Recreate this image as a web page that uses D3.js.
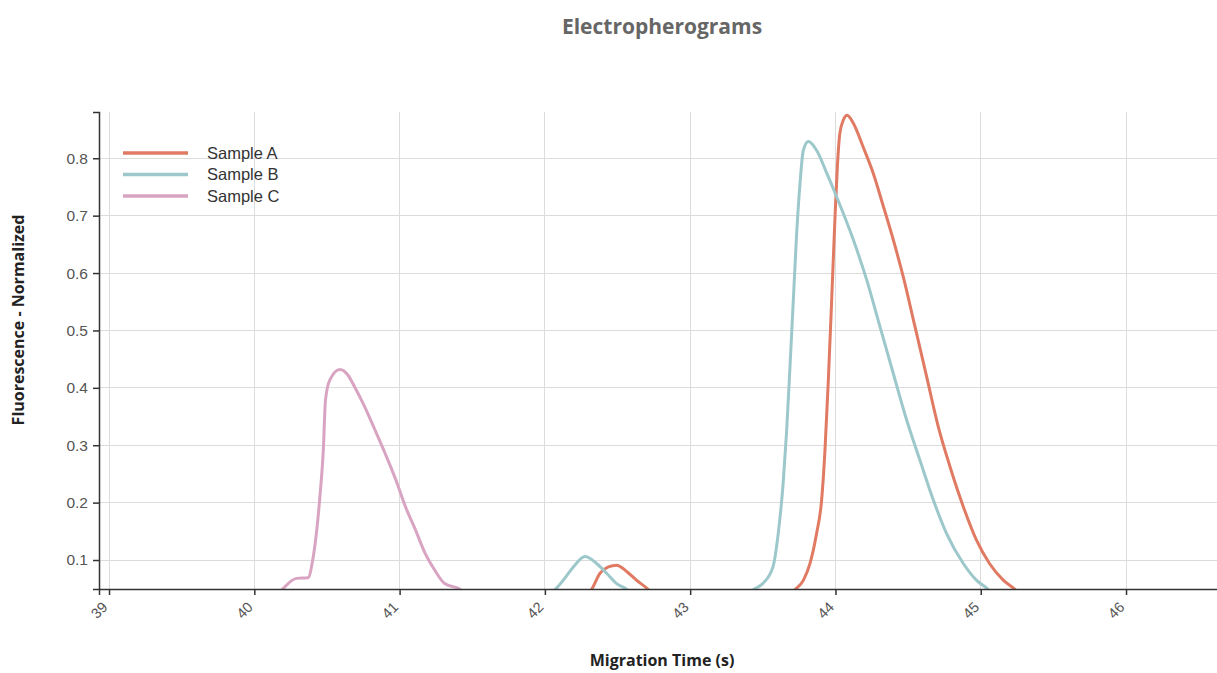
<!DOCTYPE html>
<html>
<head>
<meta charset="utf-8">
<script src="https://cdn.jsdelivr.net/npm/d3@7"></script>
<style>
  body { margin: 0; background: #fff; }
  svg { display: block; }
</style>
</head>
<body>
<svg id="chart" width="1217" height="673"></svg>
<script>
const seriesNames = ["Sample A", "Sample B", "Sample C"];
const seriesColors = ["#e07a62", "#9dc8cb", "#d9a4c2"];

const sampleA_time = [42.25, 42.32, 42.38, 42.437, 42.494, 42.563, 42.63, 42.71, 42.78,
  43.65, 43.72, 43.78, 43.825, 43.87, 43.905, 43.928, 43.95, 43.974, 43.997, 44.013, 44.03, 44.055, 44.08,
  44.123, 44.19, 44.26, 44.33, 44.398, 44.466, 44.547, 44.628, 44.708, 44.788, 44.88, 44.97, 45.06, 45.155, 45.235, 45.3];
const sampleA_value = [0.03, 0.048, 0.077, 0.088, 0.091, 0.080, 0.065, 0.049, 0.03,
  0.03, 0.048, 0.065, 0.094, 0.146, 0.205, 0.292, 0.408, 0.553, 0.698, 0.785, 0.843, 0.867, 0.875,
  0.861, 0.820, 0.774, 0.716, 0.658, 0.594, 0.507, 0.419, 0.332, 0.263, 0.193, 0.135, 0.094, 0.065, 0.049, 0.03];

const sampleB_time = [42.0, 42.07, 42.127, 42.196, 42.276, 42.356, 42.425, 42.494, 42.563, 42.63,
  43.36, 43.434, 43.50, 43.57, 43.606, 43.64, 43.663, 43.687, 43.71, 43.733, 43.756, 43.779, 43.813,
  43.87, 43.94, 44.008, 44.123, 44.215, 44.306, 44.398, 44.49, 44.58, 44.673, 44.765, 44.88, 44.97, 45.05, 45.12];
const sampleB_value = [0.03, 0.048, 0.065, 0.088, 0.106, 0.094, 0.077, 0.059, 0.049, 0.03,
  0.03, 0.048, 0.059, 0.088, 0.146, 0.234, 0.321, 0.437, 0.553, 0.669, 0.756, 0.814, 0.829,
  0.814, 0.774, 0.733, 0.658, 0.588, 0.507, 0.425, 0.344, 0.275, 0.205, 0.146, 0.094, 0.065, 0.049, 0.03];

const sampleC_time = [40.12, 40.189, 40.29, 40.37, 40.40, 40.45, 40.475, 40.49, 40.52, 40.59,
  40.645, 40.69, 40.76, 40.83, 40.90, 40.975, 41.04, 41.11, 41.175, 41.24, 41.31, 41.415, 41.48];
const sampleC_value = [0.03, 0.048, 0.068, 0.069, 0.097, 0.206, 0.292, 0.379, 0.414, 0.432,
  0.422, 0.402, 0.367, 0.327, 0.286, 0.239, 0.193, 0.152, 0.112, 0.083, 0.059, 0.049, 0.03];

const xTicks = [39, 40, 41, 42, 43, 44, 45, 46];
const yTicks = [0.1, 0.2, 0.3, 0.4, 0.5, 0.6, 0.7, 0.8];

const titleText = "Electropherograms";
const xLabel = "Migration Time (s)";
const yLabel = "Fluorescence - Normalized";

const svg = d3.select("#chart");
const margin = { left: 99, top: 112, bottom: 84 };
const innerW = 1217 - margin.left + 10;
const innerH = 673 - margin.top - margin.bottom;

const x = d3.scaleLinear().domain([38.931, 46.695]).range([0, innerW]);
const y = d3.scaleLinear().domain([0.0495, 0.8806]).range([innerH, 0]);

svg.append("defs").append("clipPath").attr("id", "clip")
  .append("rect").attr("x", 0).attr("y", -10).attr("width", innerW).attr("height", innerH + 10);

const g = svg.append("g").attr("transform", `translate(${margin.left},${margin.top})`);

// grid
g.append("g").selectAll("line.vg").data(xTicks).join("line")
  .attr("x1", d => x(d)).attr("x2", d => x(d)).attr("y1", 0).attr("y2", innerH)
  .attr("stroke", "#dcdcdc").attr("stroke-width", 1).attr("shape-rendering", "crispEdges");
g.append("g").selectAll("line.hg").data(yTicks).join("line")
  .attr("x1", 0).attr("x2", innerW).attr("y1", d => y(d)).attr("y2", d => y(d))
  .attr("stroke", "#dcdcdc").attr("stroke-width", 1).attr("shape-rendering", "crispEdges");

// lines
const series = [
  { name: seriesNames[0], color: seriesColors[0], t: sampleA_time, v: sampleA_value },
  { name: seriesNames[1], color: seriesColors[1], t: sampleB_time, v: sampleB_value },
  { name: seriesNames[2], color: seriesColors[2], t: sampleC_time, v: sampleC_value }
];
const line = d3.line().x(d => x(d[0])).y(d => y(d[1])).curve(d3.curveMonotoneX);
const lg = g.append("g").attr("clip-path", "url(#clip)");
series.forEach(s => {
  const pts = s.t.map((t, i) => [t, s.v[i]]);
  const segs = [];
  let cur = [];
  pts.forEach(p => {
    cur.push(p);
    if (p[1] <= 0.03 && cur.length > 1) { segs.push(cur); cur = []; }
  });
  if (cur.length > 1) segs.push(cur);
  segs.forEach(seg => {
    lg.append("path").datum(seg).attr("d", line)
      .attr("fill", "none").attr("stroke", s.color).attr("stroke-width", 3)
      .attr("stroke-linejoin", "round").attr("stroke-linecap", "round");
  });
});

// axes
const xAxis = d3.axisBottom(x).tickValues(xTicks).tickFormat(d3.format("d")).tickSizeOuter(6);
const gx = g.append("g").attr("transform", `translate(0,${innerH})`).call(xAxis);
gx.select(".domain").attr("stroke", "#333").attr("stroke-width", 1.5);
gx.selectAll(".tick line").attr("stroke", "#333").attr("stroke-width", 1.5);
gx.selectAll(".tick text")
  .attr("font-family", "Liberation Sans, Arial, sans-serif").attr("font-size", 14.5).attr("fill", "#555")
  .attr("text-anchor", "end").attr("x", 0).attr("y", 0).attr("dx", 0).attr("dy", 0)
  .attr("transform", "translate(-1,19) rotate(-45)");

const yAxis = d3.axisLeft(y).tickValues(yTicks).tickFormat(d3.format(".1f")).tickSizeOuter(6);
const gy = g.append("g").call(yAxis);
gy.select(".domain").attr("stroke", "#333").attr("stroke-width", 1.5);
gy.selectAll(".tick line").attr("stroke", "#333").attr("stroke-width", 1.5);
gy.selectAll(".tick text")
  .attr("font-family", "Liberation Sans, Arial, sans-serif").attr("font-size", 15.5).attr("fill", "#555")
  .attr("x", -11);

// legend
const leg = g.append("g").attr("transform", "translate(24,41)");
series.forEach((s, i) => {
  const row = leg.append("g").attr("transform", `translate(0,${i * 21.5})`);
  row.append("line").attr("x1", 0).attr("x2", 65).attr("y1", 0).attr("y2", 0)
    .attr("stroke", s.color).attr("stroke-width", 3.5).attr("stroke-linecap", "butt");
  row.append("text").attr("x", 84).attr("y", 0).attr("dy", "0.35em")
    .attr("font-family", "Liberation Sans, Arial, sans-serif").attr("font-size", 16.5)
    .attr("fill", "#333").text(s.name);
});

// title & labels
svg.append("text").attr("x", 662).attr("y", 34).attr("text-anchor", "middle")
  .attr("font-family", "Open Sans, sans-serif").attr("font-weight", "bold").attr("font-size", 21)
  .attr("fill", "#666").text(titleText);
svg.append("text").attr("x", 662).attr("y", 666).attr("text-anchor", "middle")
  .attr("font-family", "Open Sans, sans-serif").attr("font-weight", "bold").attr("font-size", 16)
  .attr("fill", "#222").text(xLabel);
svg.append("text").attr("transform", "translate(24,320) rotate(-90)").attr("text-anchor", "middle")
  .attr("font-family", "Open Sans, sans-serif").attr("font-weight", "bold").attr("font-size", 16)
  .attr("fill", "#222").text(yLabel);
</script>
</body>
</html>
